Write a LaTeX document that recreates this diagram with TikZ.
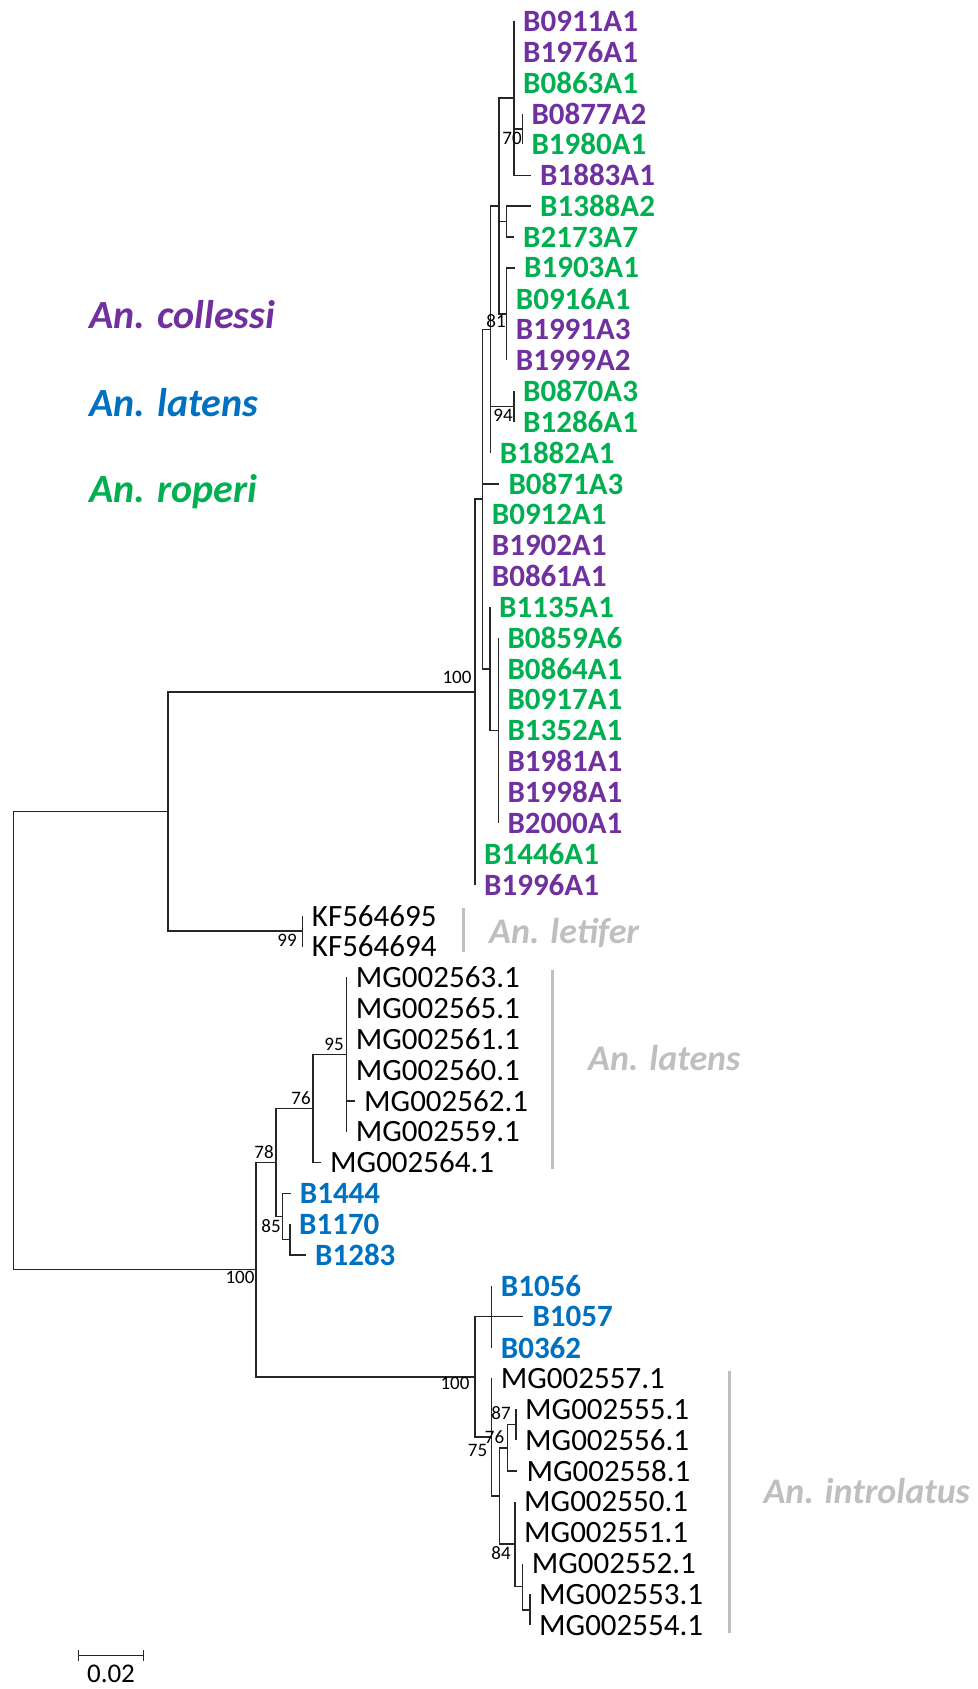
\documentclass[tikz,border=0pt]{standalone}
\usepackage{fontspec}
\setmainfont{Carlito}
\definecolor{cpur}{HTML}{7030A0}
\definecolor{cgrn}{HTML}{00B050}
\definecolor{cblu}{HTML}{0070C0}
\definecolor{cgry}{HTML}{BFBFBF}
\definecolor{cbr}{HTML}{262626}
\newcommand\lf[5]{\coordinate (#1) at (#2,#3);\node[lab,#4] (#1t) at ([xshift=9pt]#1) {#5};}
\newcommand\tbr[2]{\draw[br] (#1) |- (#2);}
\begin{document}
\begin{tikzpicture}[x=1pt,y=-1pt,
  br/.style={draw=cbr,line width=1.5pt},
  lab/.style={anchor=west,inner sep=0pt,font=\fontsize{31}{31}\selectfont},
  pu/.style={text=cpur,font=\fontsize{31}{31}\selectfont\bfseries},
  gr/.style={text=cgrn,font=\fontsize{31}{31}\selectfont\bfseries},
  bl/.style={text=cblu,font=\fontsize{31}{31}\selectfont\bfseries},
  bk/.style={text=black},
  bs/.style={inner sep=0pt,text=black,font=\fontsize{19}{19}\selectfont},
  sp/.style={anchor=base west,inner sep=0pt,font=\fontsize{40}{40}\selectfont\bfseries\itshape},
  gl/.style={anchor=base west,inner sep=0pt,text=cgry,font=\fontsize{36}{36}\selectfont\bfseries\itshape},
  gbar/.style={draw=cgry,line width=3pt}]
\path[use as bounding box] (0,0) rectangle (977,1689);
% internal nodes
\coordinate (root) at (13.3,1040.6);
\coordinate (A) at (168,811.55);
\coordinate (R) at (475,692);
\coordinate (T) at (482.7,499.2);
\coordinate (U) at (490.7,329.5);
\coordinate (X) at (499,206.1);
\coordinate (K) at (514,98.1);
\coordinate (N70) at (522.3,128.98);
\coordinate (M) at (506.5,221.5);
\coordinate (P) at (506.7,314.1);
\coordinate (N94) at (514,406.6);
\coordinate (V) at (490,668.85);
\coordinate (W) at (498.3,730.55);
\coordinate (KF) at (302.7,931.1);
\coordinate (B) at (256,1269.7);
\coordinate (C) at (276,1162.5);
\coordinate (N76) at (313,1108.5);
\coordinate (N95) at (346.7,1054.5);
\coordinate (N85) at (282.7,1216.45);
\coordinate (Y) at (290,1239.6);
\coordinate (I100) at (475,1376.95);
\coordinate (Z) at (491.7,1316.7);
\coordinate (N75) at (491.7,1437.2);
\coordinate (D) at (499.3,1496);
\coordinate (E) at (507.3,1447.8);
\coordinate (F) at (516,1424.7);
\coordinate (G) at (515,1544.2);
\coordinate (H) at (522.7,1586.65);
\coordinate (J) at (530,1609.8);
% leaves
\lf{l0}{514}{21}{pu}{B0911A1}
\lf{l1}{514}{51.85}{pu}{B1976A1}
\lf{l2}{514}{82.7}{gr}{B0863A1}
\lf{l3}{522.3}{113.55}{pu}{B0877A2}
\lf{l4}{522.3}{144.4}{gr}{B1980A1}
\lf{l5}{531}{175.25}{pu}{B1883A1}
\lf{l6}{531}{206.1}{gr}{B1388A2}
\lf{l7}{514}{236.95}{gr}{B2173A7}
\lf{l8}{515}{267.8}{gr}{B1903A1}
\lf{l9}{506.7}{298.65}{gr}{B0916A1}
\lf{l10}{506.7}{329.5}{pu}{B1991A3}
\lf{l11}{506.7}{360.35}{pu}{B1999A2}
\lf{l12}{514}{391.2}{gr}{B0870A3}
\lf{l13}{514}{422.05}{gr}{B1286A1}
\lf{l14}{490.7}{452.9}{gr}{B1882A1}
\lf{l15}{499.3}{483.75}{gr}{B0871A3}
\lf{l16}{482.7}{514.6}{gr}{B0912A1}
\lf{l17}{482.7}{545.45}{pu}{B1902A1}
\lf{l18}{482.7}{576.3}{pu}{B0861A1}
\lf{l19}{490}{607.15}{gr}{B1135A1}
\lf{l20}{498.3}{638}{gr}{B0859A6}
\lf{l21}{498.3}{668.85}{gr}{B0864A1}
\lf{l22}{498.3}{699.7}{gr}{B0917A1}
\lf{l23}{498.3}{730.55}{gr}{B1352A1}
\lf{l24}{498.3}{761.4}{pu}{B1981A1}
\lf{l25}{498.3}{792.25}{pu}{B1998A1}
\lf{l26}{498.3}{823.1}{pu}{B2000A1}
\lf{l27}{475}{853.95}{gr}{B1446A1}
\lf{l28}{475}{884.8}{pu}{B1996A1}
\lf{l29}{302.7}{915.65}{bk}{KF564695}
\lf{l30}{302.7}{946.5}{bk}{KF564694}
\lf{l31}{346.7}{977.35}{bk}{MG002563.1}
\lf{l32}{346.7}{1008.2}{bk}{MG002565.1}
\lf{l33}{346.7}{1039.05}{bk}{MG002561.1}
\lf{l34}{346.7}{1069.9}{bk}{MG002560.1}
\lf{l35}{355}{1100.75}{bk}{MG002562.1}
\lf{l36}{346.7}{1131.6}{bk}{MG002559.1}
\lf{l37}{321}{1162.45}{bk}{MG002564.1}
\lf{l38}{290.7}{1193.3}{bl}{B1444}
\lf{l39}{290}{1224.15}{bl}{B1170}
\lf{l40}{306}{1255}{bl}{B1283}
\lf{l41}{491.7}{1285.85}{bl}{B1056}
\lf{l42}{523.3}{1316.7}{bl}{B1057}
\lf{l43}{491.7}{1347.55}{bl}{B0362}
\lf{l44}{491.7}{1378.4}{bk}{MG002557.1}
\lf{l45}{516}{1409.25}{bk}{MG002555.1}
\lf{l46}{516}{1440.1}{bk}{MG002556.1}
\lf{l47}{517.3}{1470.95}{bk}{MG002558.1}
\lf{l48}{515}{1501.8}{bk}{MG002550.1}
\lf{l49}{515}{1532.65}{bk}{MG002551.1}
\lf{l50}{522.7}{1563.5}{bk}{MG002552.1}
\lf{l51}{530}{1594.35}{bk}{MG002553.1}
\lf{l52}{530}{1625.2}{bk}{MG002554.1}
% branches
\tbr{root}{A}\tbr{root}{B}
\tbr{A}{R}\tbr{A}{KF}
\tbr{R}{T}\tbr{R}{l27}\tbr{R}{l28}
\tbr{T}{U}\tbr{T}{l15}\tbr{T}{l16}\tbr{T}{l17}\tbr{T}{l18}\tbr{T}{V}
\tbr{U}{X}\tbr{U}{N94}\tbr{U}{l14}
\tbr{X}{K}\tbr{X}{M}\tbr{X}{P}
\tbr{K}{l0}\tbr{K}{l1}\tbr{K}{l2}\tbr{K}{N70}\tbr{K}{l5}
\tbr{N70}{l3}\tbr{N70}{l4}
\tbr{M}{l6}\tbr{M}{l7}
\tbr{P}{l8}\tbr{P}{l9}\tbr{P}{l10}\tbr{P}{l11}
\tbr{N94}{l12}\tbr{N94}{l13}
\tbr{V}{l19}\tbr{V}{W}
\tbr{W}{l20}\tbr{W}{l21}\tbr{W}{l22}\tbr{W}{l23}\tbr{W}{l24}\tbr{W}{l25}\tbr{W}{l26}
\tbr{KF}{l29}\tbr{KF}{l30}
\tbr{B}{C}\tbr{B}{I100}
\tbr{C}{N76}\tbr{C}{N85}
\tbr{N76}{N95}\tbr{N76}{l37}
\tbr{N95}{l31}\tbr{N95}{l32}\tbr{N95}{l33}\tbr{N95}{l34}\tbr{N95}{l35}\tbr{N95}{l36}
\tbr{N85}{l38}\tbr{N85}{Y}
\tbr{Y}{l39}\tbr{Y}{l40}
\tbr{I100}{Z}\tbr{I100}{N75}
\tbr{Z}{l41}\tbr{Z}{l42}\tbr{Z}{l43}
\tbr{N75}{l44}\tbr{N75}{D}
\tbr{D}{E}\tbr{D}{G}
\tbr{E}{F}\tbr{E}{l47}
\tbr{F}{l45}\tbr{F}{l46}
\tbr{G}{l48}\tbr{G}{l49}\tbr{G}{H}
\tbr{H}{l50}\tbr{H}{J}
\tbr{J}{l51}\tbr{J}{l52}
% bootstrap values
\node[bs] (b70) at (512,138) {70};
\node[bs] (b81) at (496,321) {81};
\node[bs] (b94) at (503,415) {94};
\node[bs] (b100a) at (457,677) {100};
\node[bs] (b99) at (287,940) {99};
\node[bs] (b95) at (334,1044) {95};
\node[bs] (b76a) at (301,1098) {76};
\node[bs] (b78) at (264,1152) {78};
\node[bs] (b85) at (271,1226) {85};
\node[bs] (b100b) at (240,1277) {100};
\node[bs] (b100c) at (455,1383) {100};
\node[bs] (b87) at (501,1413) {87};
\node[bs] (b76b) at (494.5,1437) {76};
\node[bs] (b75) at (477.5,1450) {75};
\node[bs] (b84) at (501,1553) {84};
% legend
\node[sp,text=cpur] (sc) at (89,328) {An. collessi};
\node[sp,text=cblu] (sl) at (89,416) {An. latens};
\node[sp,text=cgrn] (sr) at (89,502) {An. roperi};
% clade bars and names
\coordinate (g1a) at (463.3,908); \coordinate (g1b) at (463.3,951.7);
\draw[gbar] (g1a) -- (g1b);
\node[gl] (glet) at (489,943.5) {An. letifer};
\coordinate (g2a) at (552.7,970); \coordinate (g2b) at (552.7,1169.3);
\draw[gbar] (g2a) -- (g2b);
\node[gl] (glat) at (588,1070) {An. latens};
\coordinate (g3a) at (729.3,1370.7); \coordinate (g3b) at (729.3,1633.3);
\draw[gbar] (g3a) -- (g3b);
\node[gl] (gint) at (763.3,1503.3) {An. introlatus};
% scale bar
\coordinate (s1) at (78.3,1655.5); \coordinate (s2) at (143.3,1655.5);
\draw[br,line width=1.3pt] (s1) -- (s2);
\draw[br,line width=1.3pt] ([yshift=5.5pt]s1) -- ([yshift=-5.5pt]s1);
\draw[br,line width=1.3pt] ([yshift=5.5pt]s2) -- ([yshift=-5.5pt]s2);
\node[inner sep=0pt,font=\fontsize{27}{27}\selectfont] (slab) at (111,1673.5) {0.02};
\end{tikzpicture}
\end{document}
